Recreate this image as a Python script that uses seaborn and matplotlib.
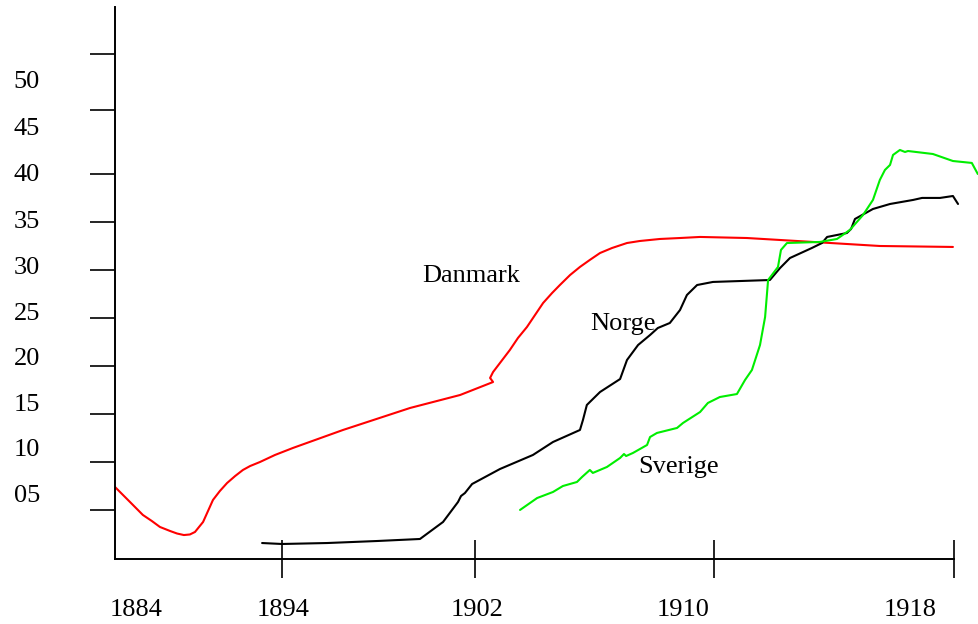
import matplotlib
matplotlib.use("Agg")
import matplotlib.pyplot as plt
import seaborn as sns

# Danmark (red)
danmark_year = [1890.00, 1890.50, 1890.93, 1891.23, 1891.50, 1891.84, 1892.07, 1892.30,
                1892.50, 1892.67, 1892.94, 1893.27, 1893.50, 1893.74, 1894.01, 1894.27,
                1894.51, 1894.84, 1895.34, 1895.94, 1897.61, 1899.85, 1901.52, 1902.62,
                1902.52, 1902.62, 1903.18, 1903.45, 1903.75, 1904.02, 1904.29, 1904.59,
                1904.85, 1905.19, 1905.52, 1905.85, 1906.19, 1906.59, 1907.09, 1907.52,
                1908.19, 1908.86, 1909.53, 1911.09, 1913.30, 1915.53, 1917.97]
danmark_val = [7.44, 5.88, 4.53, 3.90, 3.28, 2.86, 2.60, 2.44,
               2.50, 2.76, 3.80, 6.09, 7.02, 7.85, 8.58, 9.21,
               9.62, 10.04, 10.77, 11.50, 13.37, 15.66, 17.01, 18.36,
               18.78, 19.40, 21.69, 22.94, 24.08, 25.33, 26.58, 27.62,
               28.45, 29.49, 30.33, 31.06, 31.78, 32.30, 32.82, 33.03,
               33.24, 33.34, 33.45, 33.34, 32.93, 32.51, 32.41]

# Norge (black)
norge_year = [1894.91, 1895.57, 1897.08, 1898.75, 1900.18, 1900.95, 1901.45, 1901.55,
              1901.68, 1901.92, 1902.85, 1903.95, 1904.62, 1905.52, 1905.62, 1905.75,
              1905.85, 1906.19, 1906.86, 1907.09, 1907.46, 1907.86, 1908.12, 1908.52,
              1908.86, 1909.09, 1909.43, 1909.96, 1911.86, 1912.20, 1912.53, 1913.26,
              1913.60, 1913.77, 1914.43, 1914.57, 1914.70, 1915.30, 1915.87, 1916.64,
              1916.94, 1917.54, 1917.97, 1918.14]
norge_val = [1.61, 1.51, 1.61, 1.82, 2.03, 3.80, 5.88, 6.50,
             6.81, 7.75, 9.31, 10.77, 12.12, 13.37, 14.41, 15.97,
             16.28, 17.32, 18.67, 20.65, 22.21, 23.25, 23.98, 24.50,
             25.85, 27.41, 28.45, 28.77, 28.97, 30.22, 31.26, 32.30,
             32.82, 33.45, 33.86, 34.28, 35.32, 36.36, 36.88, 37.30,
             37.51, 37.51, 37.71, 36.88]

# Sverige (green)
sverige_year = [1903.52, 1904.09, 1904.62, 1904.95, 1905.42, 1905.59, 1905.85, 1905.95,
                1906.42, 1906.86, 1906.99, 1907.06, 1907.29, 1907.76, 1907.86, 1908.09,
                1908.76, 1908.96, 1909.53, 1909.79, 1910.19, 1910.76, 1911.03, 1911.26,
                1911.53, 1911.70, 1911.80, 1912.13, 1912.23, 1912.43, 1913.53, 1914.10,
                1914.53, 1914.97, 1915.30, 1915.53, 1915.70, 1915.87, 1915.97, 1916.20,
                1916.37, 1916.47, 1917.30, 1917.97, 1918.60, 1918.80]
sverige_val = [5.05, 6.29, 6.92, 7.54, 7.96, 8.48, 9.21, 8.90,
               9.52, 10.46, 10.87, 10.66, 10.98, 11.81, 12.64, 13.06,
               13.58, 14.10, 15.24, 16.18, 16.80, 17.11, 18.57, 19.61,
               22.21, 25.12, 28.97, 30.33, 32.10, 32.82, 32.93, 33.24,
               34.18, 35.74, 37.30, 39.38, 40.42, 40.94, 41.98, 42.50,
               42.29, 42.39, 42.08, 41.35, 41.15, 40.00]

# axis ticks (marks) and label positions, which do not line up in the original
x_tick_pos = [1895.58, 1902, 1910, 1918]
x_label_pos = [1890.72, 1895.61, 1902.08, 1908.96, 1916.54]
x_labels = ['1884', '1894', '1902', '1910', '1918']
y_tick_pos = [5, 10, 15, 20, 25, 30, 35, 40, 46.66, 52.46]
y_label_pos = [6.71, 11.50, 16.18, 20.97, 25.65, 30.53, 35.22, 40.11, 44.89, 49.78]
y_labels = ['05', '10', '15', '20', '25', '30', '35', '40', '45', '50']

sns.set_theme(style='white')
plt.rcParams['font.family'] = ['Liberation Serif', 'DejaVu Serif']
fs = 19

fig = plt.figure(figsize=(9.79, 6.24), dpi=100)
ax = fig.add_axes([115 / 979, 65.5 / 624, 864 / 979, 558.5 / 624])
ax.set_facecolor('white')

sns.lineplot(x=danmark_year, y=danmark_val, sort=False, estimator=None, color='#ff0000', lw=1.5, ax=ax)
sns.lineplot(x=norge_year, y=norge_val, sort=False, estimator=None, color='black', lw=1.5, ax=ax)
sns.lineplot(x=sverige_year, y=sverige_val, sort=False, estimator=None, color='#00ee00', lw=1.5, ax=ax, clip_on=False)

ax.set_xlim(1890, 1918.84)
ax.set_ylim(0, 58.1)

for s in ['top', 'right']:
    ax.spines[s].set_visible(False)
for s in ['left', 'bottom']:
    ax.spines[s].set_color('black')
    ax.spines[s].set_linewidth(1.4)
ax.spines['bottom'].set_bounds(1890, 1918)
ax.spines['left'].set_bounds(0, 57.38)

ax.set_xticks(x_tick_pos, labels=[''] * len(x_tick_pos))
ax.set_xticks(x_label_pos, labels=x_labels, minor=True)
ax.set_yticks(y_tick_pos, labels=[''] * len(y_tick_pos))
ax.set_yticks(y_label_pos, labels=y_labels, minor=True)

ax.tick_params(axis='x', which='major', direction='inout', length=27.4, width=1.2, color='black', bottom=True)
ax.tick_params(axis='y', which='major', direction='out', length=18, width=1.2, color='black', left=True)
ax.tick_params(axis='x', which='minor', length=0, pad=29, labelsize=fs, labelcolor='black', bottom=True)
ax.tick_params(axis='y', which='minor', length=0, pad=54, labelsize=fs, labelcolor='black', left=True)

ax.text(1900.25, 28.77, 'Danmark', fontsize=fs, va='baseline', ha='left', color='black')
ax.text(1905.85, 23.77, 'Norge', fontsize=fs, va='baseline', ha='left', color='black')
ax.text(1907.46, 8.90, 'Sverige', fontsize=fs, va='baseline', ha='left', color='black')

ax.set_xlabel('')
ax.set_ylabel('')

fig.savefig('out.png', dpi=100, facecolor='white')
